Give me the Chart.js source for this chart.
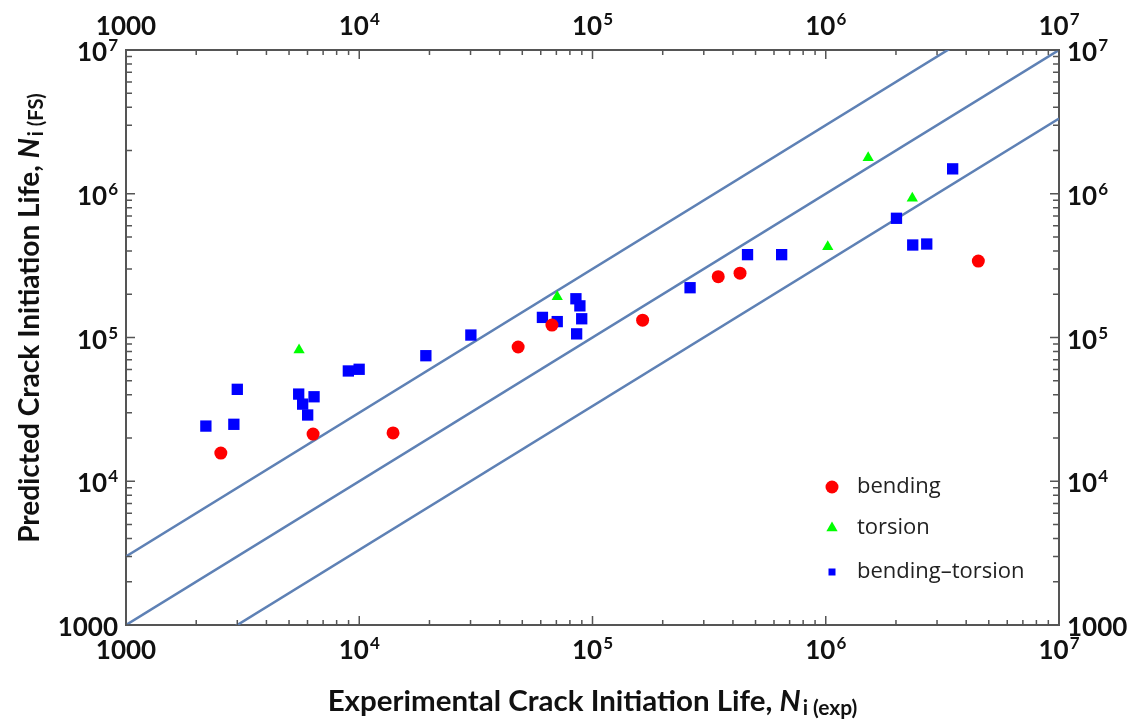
<!doctype html>
<html>
<head>
    <title>Crack Initiation Life</title>
    <script src="https://cdn.jsdelivr.net/npm/chart.js@4/dist/chart.umd.min.js"></script>
    <style>
        body { margin: 0; background: #fff; }
        .canvas-con { position: relative; width: 1142px; height: 722px; }
    </style>
</head>
<body>
<div class="canvas-con">
    <canvas id="chart-area" width="1142" height="722"></canvas>
</div>
<script>
    // values (log-log, cycles)
    var bendingX = [2550, 6340, 13960, 48000, 67000, 164000, 346000, 429000, 4510000];
    var bendingY = [15700, 21300, 21700, 85900, 122000, 132000, 265000, 280000, 340000];

    var torsionX = [5520, 70600, 1020000, 1520000, 2350000];
    var torsionY = [81900, 192000, 428000, 1780000, 929000];

    var bendTorsX = [2200, 2900, 3000, 5500, 5720, 6010, 6400, 8980, 9990, 19300, 30100,
        61000, 70600, 84900, 88300, 89900, 85500, 262000, 462000, 647000,
        2010000, 2360000, 2710000, 3500000];
    var bendTorsY = [24200, 24900, 43600, 40400, 34400, 28900, 38700, 58500, 60100, 74700, 104000,
        138000, 129000, 186000, 166000, 135000, 106000, 222000, 377000, 377000,
        675000, 440000, 447000, 1490000];

    // scatter band lines: factor 3, 1 and 1/3
    var lineX = [1000, 10000000];
    var upperLineY = [3000, 30000000];
    var equalLineY = [1000, 10000000];
    var lowerLineY = [333.3, 3333333];

    var tickValues = [1000, 10000, 100000, 1000000, 10000000];
    var tickLabels = [['1000', ''], ['10', '4'], ['10', '5'], ['10', '6'], ['10', '7']];
    var minorSteps = [2, 3, 4, 5, 6, 7, 8, 9];

    var seriesNames = ['bending', 'torsion', 'bending\u2013torsion'];
    var seriesColors = ['#ff0000', '#00ff00', '#0000ff'];

    var xTitle = ['Experimental Crack Initiation Life, ', 'N', 'i (exp)'];
    var yTitle = ['Predicted Crack Initiation Life, ', 'N', 'i (FS)'];

    var lineColor = '#5e81b5';
    var frameColor = '#555555';
    var labelFont = 'Lato, "Open Sans", sans-serif';

    function pairs(xs, ys) {
        return xs.map(function(x, i) { return {x: x, y: ys[i]}; });
    }

    function drawTickLabel(ctx, lbl, x, y, align) {
        ctx.font = 'bold 26px ' + labelFont;
        var w1 = ctx.measureText(lbl[0]).width;
        ctx.font = 'bold 17px ' + labelFont;
        var w2 = lbl[1] ? ctx.measureText(lbl[1]).width + 1 : 0;
        var w = w1 + w2;
        var x0 = align === 'center' ? x - w / 2 : (align === 'right' ? x - w : x);
        ctx.textAlign = 'left';
        ctx.textBaseline = 'alphabetic';
        ctx.font = 'bold 26px ' + labelFont;
        ctx.fillText(lbl[0], x0, y);
        if (lbl[1]) {
            ctx.font = 'bold 17px ' + labelFont;
            ctx.fillText(lbl[1], x0 + w1 + 1, y - 10);
        }
    }

    function titleWidth(ctx, parts, s) {
        ctx.font = 'bold ' + s + 'px ' + labelFont;
        var w = ctx.measureText(parts[0]).width;
        ctx.font = 'italic bold ' + s + 'px ' + labelFont;
        w += ctx.measureText(parts[1]).width + 2;
        ctx.font = 'bold ' + Math.round(s * 0.7) + 'px ' + labelFont;
        w += ctx.measureText(parts[2]).width;
        return w;
    }

    // axis title with italic N and a subscript
    function drawTitle(ctx, parts, cx, baseline, target) {
        var s = 24;
        s = s * target / titleWidth(ctx, parts, s);
        var w = titleWidth(ctx, parts, s);
        var x = cx - w / 2;
        ctx.textAlign = 'left';
        ctx.textBaseline = 'alphabetic';
        ctx.font = 'bold ' + s + 'px ' + labelFont;
        ctx.fillText(parts[0], x, baseline);
        x += ctx.measureText(parts[0]).width;
        ctx.font = 'italic bold ' + s + 'px ' + labelFont;
        ctx.fillText(parts[1], x, baseline);
        x += ctx.measureText(parts[1]).width + 2;
        ctx.font = 'bold ' + Math.round(s * 0.7) + 'px ' + labelFont;
        ctx.fillText(parts[2], x, baseline + 4);
    }

    function drawMarker(ctx, kind, x, y, size) {
        ctx.beginPath();
        if (kind === 'circle') {
            ctx.arc(x, y, size, 0, Math.PI * 2);
        } else if (kind === 'triangle') {
            var h = size * 1.5, half = size * Math.sqrt(3) / 2;
            ctx.moveTo(x, y - size);
            ctx.lineTo(x + half, y - size + h);
            ctx.lineTo(x - half, y - size + h);
            ctx.closePath();
        } else {
            ctx.rect(x - size, y - size, size * 2, size * 2);
        }
        ctx.fill();
    }

    var framePlugin = {
        id: 'framePlugin',
        afterDraw: function(chart) {
            var ctx = chart.ctx;
            var a = chart.chartArea;
            var xs = chart.scales.x, ys = chart.scales.y;
            ctx.save();

            // inward ticks on all four sides
            ctx.strokeStyle = frameColor;
            ctx.lineWidth = 1.5;
            ctx.beginPath();
            for (var d = 0; d < tickValues.length; d++) {
                var base = tickValues[d];
                var px = xs.getPixelForValue(base), py = ys.getPixelForValue(base);
                ctx.moveTo(px, a.bottom); ctx.lineTo(px, a.bottom - 9);
                ctx.moveTo(px, a.top); ctx.lineTo(px, a.top + 9);
                ctx.moveTo(a.left, py); ctx.lineTo(a.left + 9, py);
                ctx.moveTo(a.right, py); ctx.lineTo(a.right - 9, py);
                if (d === tickValues.length - 1) break;
                for (var k = 0; k < minorSteps.length; k++) {
                    var v = base * minorSteps[k];
                    var mx = xs.getPixelForValue(v), my = ys.getPixelForValue(v);
                    ctx.moveTo(mx, a.bottom); ctx.lineTo(mx, a.bottom - 5);
                    ctx.moveTo(mx, a.top); ctx.lineTo(mx, a.top + 5);
                    ctx.moveTo(a.left, my); ctx.lineTo(a.left + 6, my);
                    ctx.moveTo(a.right, my); ctx.lineTo(a.right - 6, my);
                }
            }
            ctx.stroke();

            // tick labels
            ctx.fillStyle = '#111';
            for (var i = 0; i < tickValues.length; i++) {
                var tx = xs.getPixelForValue(tickValues[i]);
                var ty = ys.getPixelForValue(tickValues[i]);
                drawTickLabel(ctx, tickLabels[i], tx, a.bottom + 34, 'center');
                drawTickLabel(ctx, tickLabels[i], tx, a.top - 15, 'center');
                drawTickLabel(ctx, tickLabels[i], a.left - 8, ty + 11, 'right');
                drawTickLabel(ctx, tickLabels[i], a.right + 8, ty + 11, 'left');
            }

            // axis titles
            drawTitle(ctx, xTitle, (a.left + a.right) / 2, 711, 530);
            ctx.save();
            ctx.translate(39, 318);
            ctx.rotate(-Math.PI / 2);
            drawTitle(ctx, yTitle, 0, 0, 450);
            ctx.restore();

            // legend inside plot
            var kinds = ['circle', 'triangle', 'rect'];
            var sizes = [6.5, 6.5, 3.5];
            var rows = [487, 528, 572];
            for (var j = 0; j < seriesNames.length; j++) {
                ctx.fillStyle = seriesColors[j];
                drawMarker(ctx, kinds[j], 832, rows[j], sizes[j]);
                ctx.fillStyle = '#222';
                ctx.font = '22px "Open Sans", sans-serif';
                ctx.textAlign = 'left';
                ctx.textBaseline = 'middle';
                ctx.fillText(seriesNames[j], 857, rows[j]);
            }
            ctx.restore();
        }
    };

    function logAxis(pos, size) {
        return {
            type: 'logarithmic',
            position: pos,
            min: 1000,
            max: 10000000,
            grid: {display: false, drawTicks: false},
            border: {display: true, color: frameColor, width: 2},
            ticks: {display: false},
            afterFit: function(scale) {
                if (pos === 'top' || pos === 'bottom') scale.height = size;
                else scale.width = size;
            }
        };
    }

    var config = {
        type: 'scatter',
        data: {
            datasets: [{
                label: seriesNames[0],
                data: pairs(bendingX, bendingY),
                pointStyle: 'circle',
                pointRadius: 6.5,
                backgroundColor: seriesColors[0],
                borderWidth: 0
            }, {
                label: seriesNames[1],
                data: pairs(torsionX, torsionY),
                pointStyle: 'triangle',
                pointRadius: 6.5,
                backgroundColor: seriesColors[1],
                borderWidth: 0
            }, {
                label: seriesNames[2],
                data: pairs(bendTorsX, bendTorsY),
                pointStyle: 'rect',
                pointRadius: 8,
                backgroundColor: seriesColors[2],
                borderWidth: 0
            }, {
                label: 'upper',
                data: pairs(lineX, upperLineY),
                showLine: true, pointRadius: 0,
                borderColor: lineColor, borderWidth: 2.5
            }, {
                label: 'equal',
                data: pairs(lineX, equalLineY),
                showLine: true, pointRadius: 0,
                borderColor: lineColor, borderWidth: 2.5
            }, {
                label: 'lower',
                data: pairs(lineX, lowerLineY),
                showLine: true, pointRadius: 0,
                borderColor: lineColor, borderWidth: 2.5
            }]
        },
        options: {
            responsive: false,
            devicePixelRatio: 1,
            animation: false,
            events: [],
            layout: {padding: 0},
            plugins: {
                legend: {display: false},
                tooltip: {enabled: false},
                title: {display: false}
            },
            scales: {
                x: logAxis('bottom', 97),
                x2: logAxis('top', 50),
                y: logAxis('left', 126),
                y2: logAxis('right', 83)
            }
        },
        plugins: [framePlugin]
    };

    window.onload = function() {
        var ctx = document.getElementById('chart-area').getContext('2d');
        window.myScatter = new Chart(ctx, config);
    };
</script>
</body>
</html>
